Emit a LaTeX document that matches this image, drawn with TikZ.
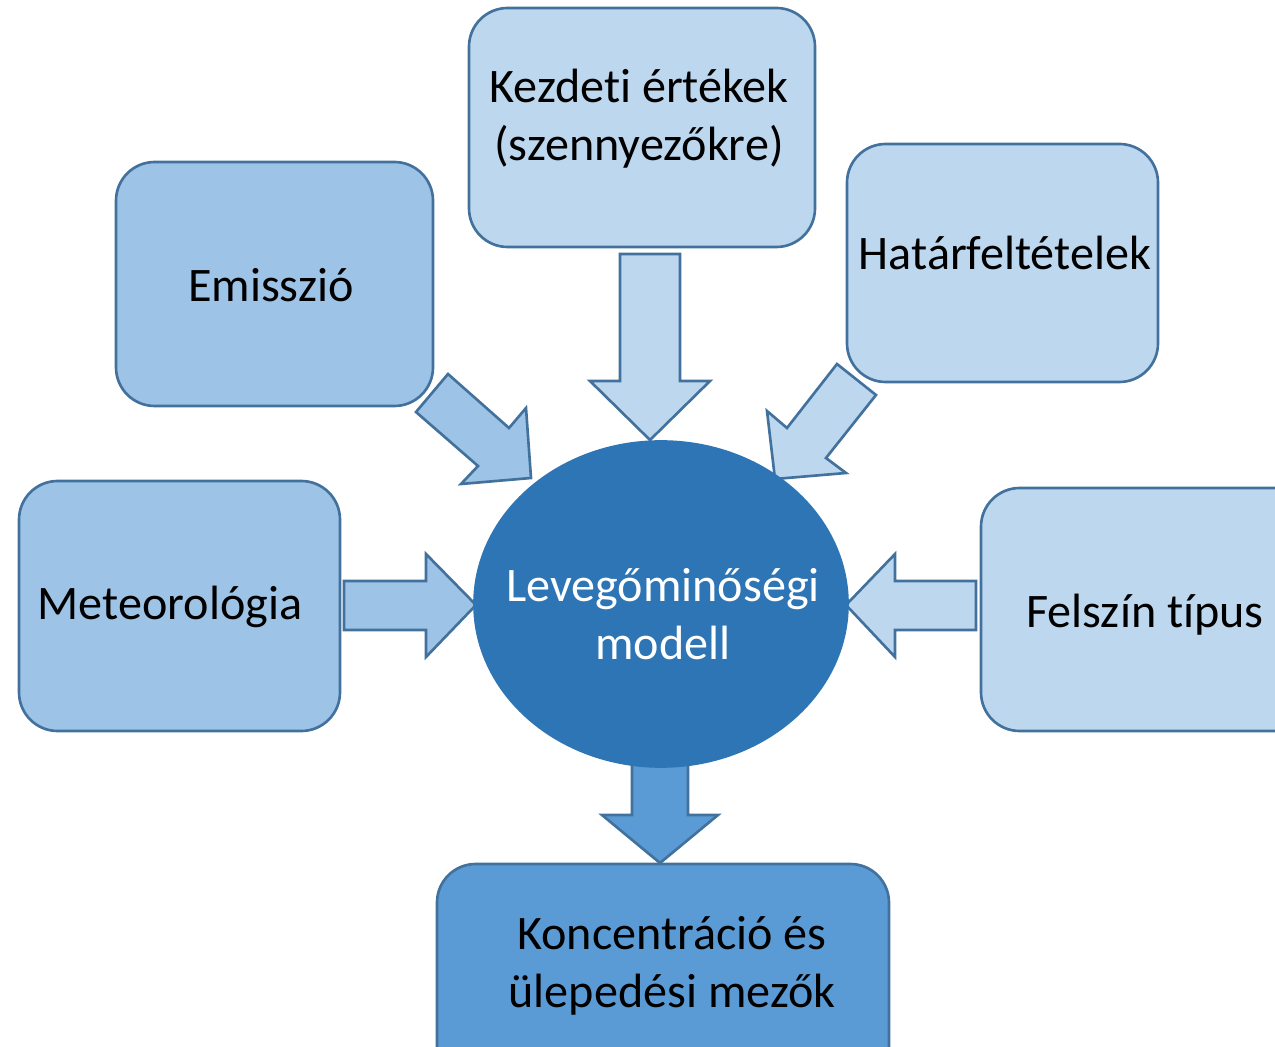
\documentclass[tikz,border=0pt]{standalone}
\usepackage{fontspec}
\setmainfont{Carlito}[Ligatures={NoCommon}]
\usetikzlibrary{shapes.geometric}
\definecolor{lightA}{HTML}{BDD7EE}
\definecolor{lightB}{HTML}{9DC3E6}
\definecolor{midblue}{HTML}{5B9BD5}
\definecolor{darkblue}{HTML}{2E75B6}
\definecolor{edgeblue}{HTML}{41719C}
\tikzset{
  box/.style={draw=edgeblue, line width=1.5pt, rounded corners=22pt, inner sep=0pt},
  lbl/.style={font=\fontsize{27.4}{33.2}\selectfont, align=center, inner sep=0pt, text=black},
  blockarrow/.style={draw=edgeblue, line width=1.5pt, line join=miter},
}
\begin{document}
\begin{tikzpicture}[x=0.02cm, y=-0.02cm]
\useasboundingbox (0,0) rectangle (1275,1047);
\clip (0,0) rectangle (1275,1047);
% boxes
\draw[box, fill=lightA] (469,8) rectangle (815,247);
\draw[box, fill=lightB] (116,162) rectangle (433,406);
\draw[box, fill=lightA] (847,144) rectangle (1158,382);
\draw[box, fill=lightB] (19,481) rectangle (340,731);
\draw[box, fill=lightA] (981,488) rectangle (1320,731);
\draw[box, fill=midblue] (437,864) rectangle (889,1090);
% block arrows
\draw[blockarrow, fill=lightA] (620,254) -- (680,254) -- (680,381) -- (710,381) -- (650,440) -- (590,381) -- (620,381) -- cycle;
\draw[blockarrow, fill=lightB] (416,412) -- (448,374) -- (509,428) -- (526,408) -- (531,478) -- (461,484) -- (478,466) -- cycle;
\draw[blockarrow, fill=lightA] (837,364) -- (876,395) -- (826,458) -- (846,473) -- (775,479) -- (767,411) -- (787,428) -- cycle;
\draw[blockarrow, fill=lightB] (344,581) -- (426,581) -- (426,554) -- (476,605) -- (426,657) -- (426,630) -- (344,630) -- cycle;
\draw[blockarrow, fill=lightA] (976,581) -- (895,581) -- (895,554) -- (846,605) -- (895,657) -- (895,630) -- (976,630) -- cycle;
\draw[blockarrow, fill=midblue] (632,740) -- (688,740) -- (688,815) -- (718,815) -- (660,863) -- (602,815) -- (632,815) -- cycle;
% central ellipse
\node[ellipse, draw=darkblue, fill=darkblue, line width=1pt, inner sep=0pt,
      minimum width=7.48cm, minimum height=6.52cm] (model) at (661,604) {};
% labels
\node[lbl] (t1) at (639,119) {Kezdeti értékek\\(szennyezőkre)};
\node[lbl] (t2) at (271,285) {Emisszió};
\node[lbl] (t3) at (1005,253) {Határfeltételek};
\node[lbl] (t4) at (170,607) {Meteorológia};
\node[lbl] (t5) at (1145,615) {Felszín típus};
\node[lbl, text=white] (t6) at (663,614) {Levegőminőségi\\modell};
\node[lbl] (t7) at (672,966) {Koncentráció és\\ülepedési mezők};
\end{tikzpicture}
\end{document}
